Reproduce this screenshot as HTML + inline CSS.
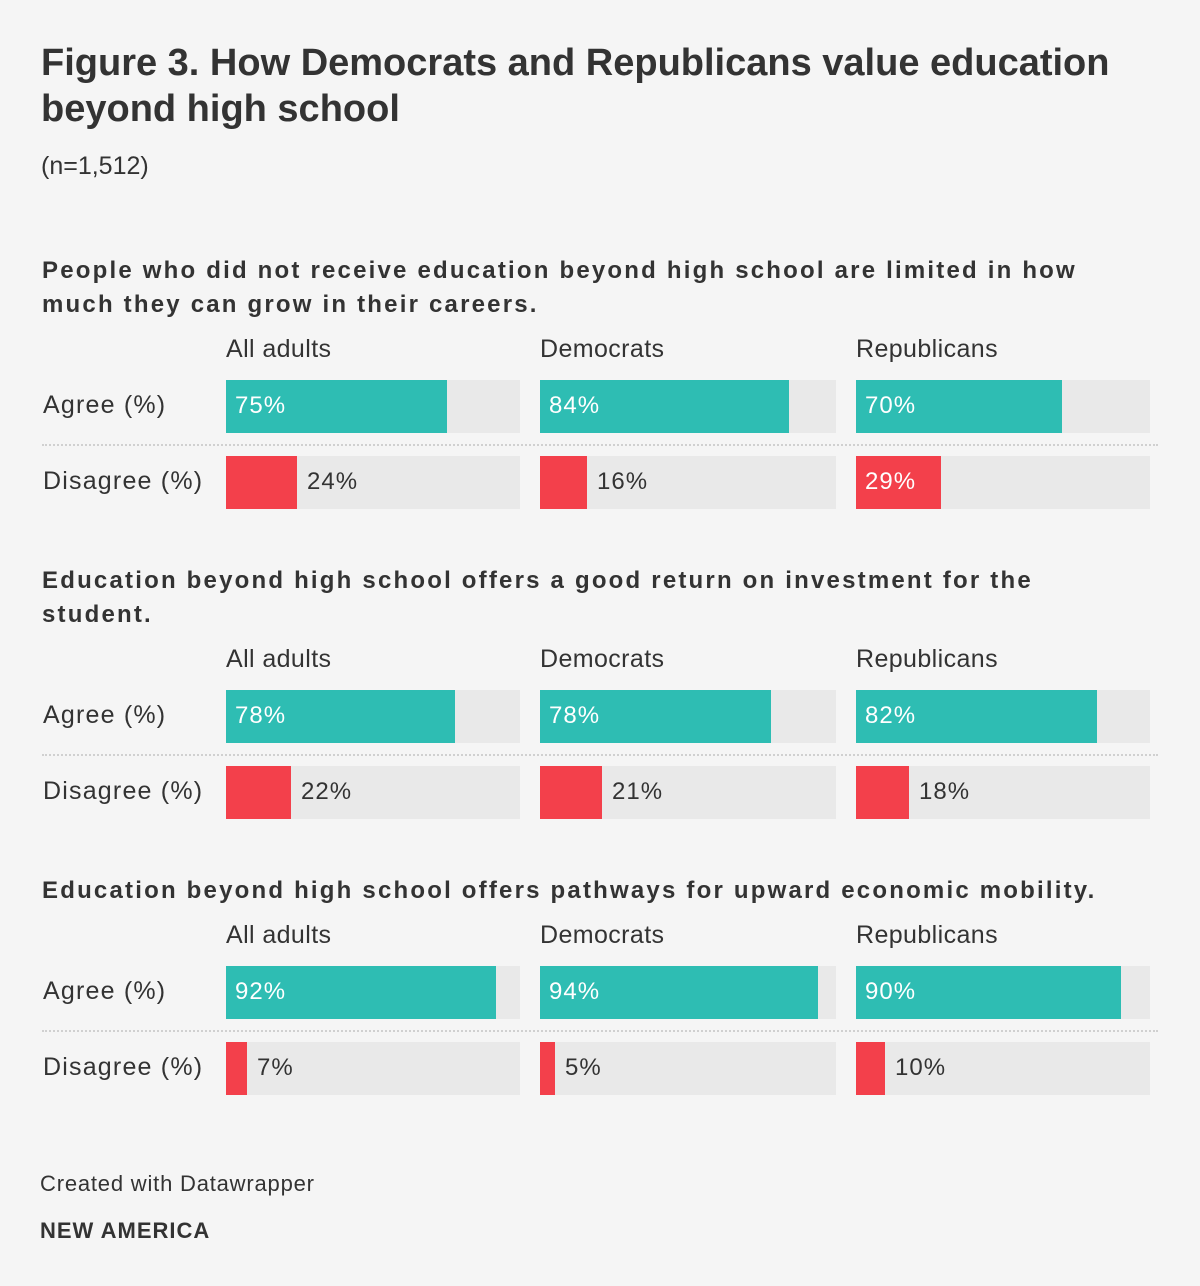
<!DOCTYPE html>
<html><head><meta charset="utf-8">
<style>
body{margin:0;background:#f5f5f5;font-family:"Liberation Sans",sans-serif;color:#333;}
#root{position:relative;width:1200px;height:1286px;overflow:hidden;}
.abs{position:absolute;white-space:nowrap;}
.title{left:41px;top:40px;font-size:38px;font-weight:bold;line-height:46px;color:#333;letter-spacing:0px;white-space:normal;width:1130px;}
.sub{left:41px;top:152px;font-size:25px;}
.q{left:42px;font-size:24px;font-weight:bold;line-height:34px;letter-spacing:2.2px;white-space:pre-line;width:1150px;color:#333;}
.col{font-size:25px;letter-spacing:0.4px;}
.row{left:43px;font-size:25px;letter-spacing:1.2px;}
.track{background:#e9e9e9;height:53px;}
.bar{height:53px;}
.val{font-size:24px;letter-spacing:1px;line-height:53px;}
.sep{left:42px;width:1116px;border-top:2px dotted #d0d0d0;height:0;}
</style></head><body>
<div id="root">
<div class="abs title">Figure 3. How Democrats and Republicans value education beyond high school</div>
<div class="abs sub">(n=1,512)</div>
<div class="abs" style="left:40px;top:1171px;font-size:22px;letter-spacing:0.8px;">Created with Datawrapper</div>
<div class="abs" style="left:40px;top:1218px;font-size:22px;font-weight:bold;letter-spacing:1px;">NEW AMERICA</div>
</div>
<script>
const questions=["People who did not receive education beyond high school are limited in how\nmuch they can grow in their careers.","Education beyond high school offers a good return on investment for the\nstudent.","Education beyond high school offers pathways for upward economic mobility."];
const groups=["All adults","Democrats","Republicans"];
const agree=[[75,84,70],[78,78,82],[92,94,90]];
const disagree=[[24,16,29],[22,21,18],[7,5,10]];
const root=document.getElementById('root');
const colX=[226,540,856], colW=[294,296,294];
const secTop=[254,564,874], twoLine=[true,true,false];
function mk(cls,style,text){const d=document.createElement('div');d.className='abs '+cls;Object.assign(d.style,style);if(text!==undefined)d.textContent=text;root.appendChild(d);return d;}
questions.forEach((q,s)=>{
  const t=secTop[s];
  const h=mk('q',{top:t+'px'},q);
  
  
  const base=t+(twoLine[s]?96:62);
  groups.forEach((g,c)=>{
    const l=mk('col',{left:colX[c]+'px',top:(base-15)+'px'},g);
    
    
  });
  [['Agree (%)',agree[s],'#2ebdb3',base+30],['Disagree (%)',disagree[s],'#f3404b',base+106]].forEach(([lab,vals,col,y],r)=>{
    const rl=mk('row',{top:(y+11)+'px'},lab);
    
    
    vals.forEach((v,c)=>{
      const tr=mk('track',{left:colX[c]+'px',top:y+'px',width:colW[c]+'px'});
      
      
      const w=Math.round(colW[c]*v/100);
      const b=mk('bar',{left:colX[c]+'px',top:y+'px',width:w+'px',background:col});
      
      
      const inside=v>=25;
      const vl=mk('val',{left:(inside?colX[c]+9:colX[c]+w+10)+'px',top:(y-1)+'px',color:inside?'#fff':'#333'},v+'%');
      
      
    });
    if(r===0){const sp=mk('sep',{top:(y+64)+'px'});
      
      }
  });
});
</script>
</body></html>
